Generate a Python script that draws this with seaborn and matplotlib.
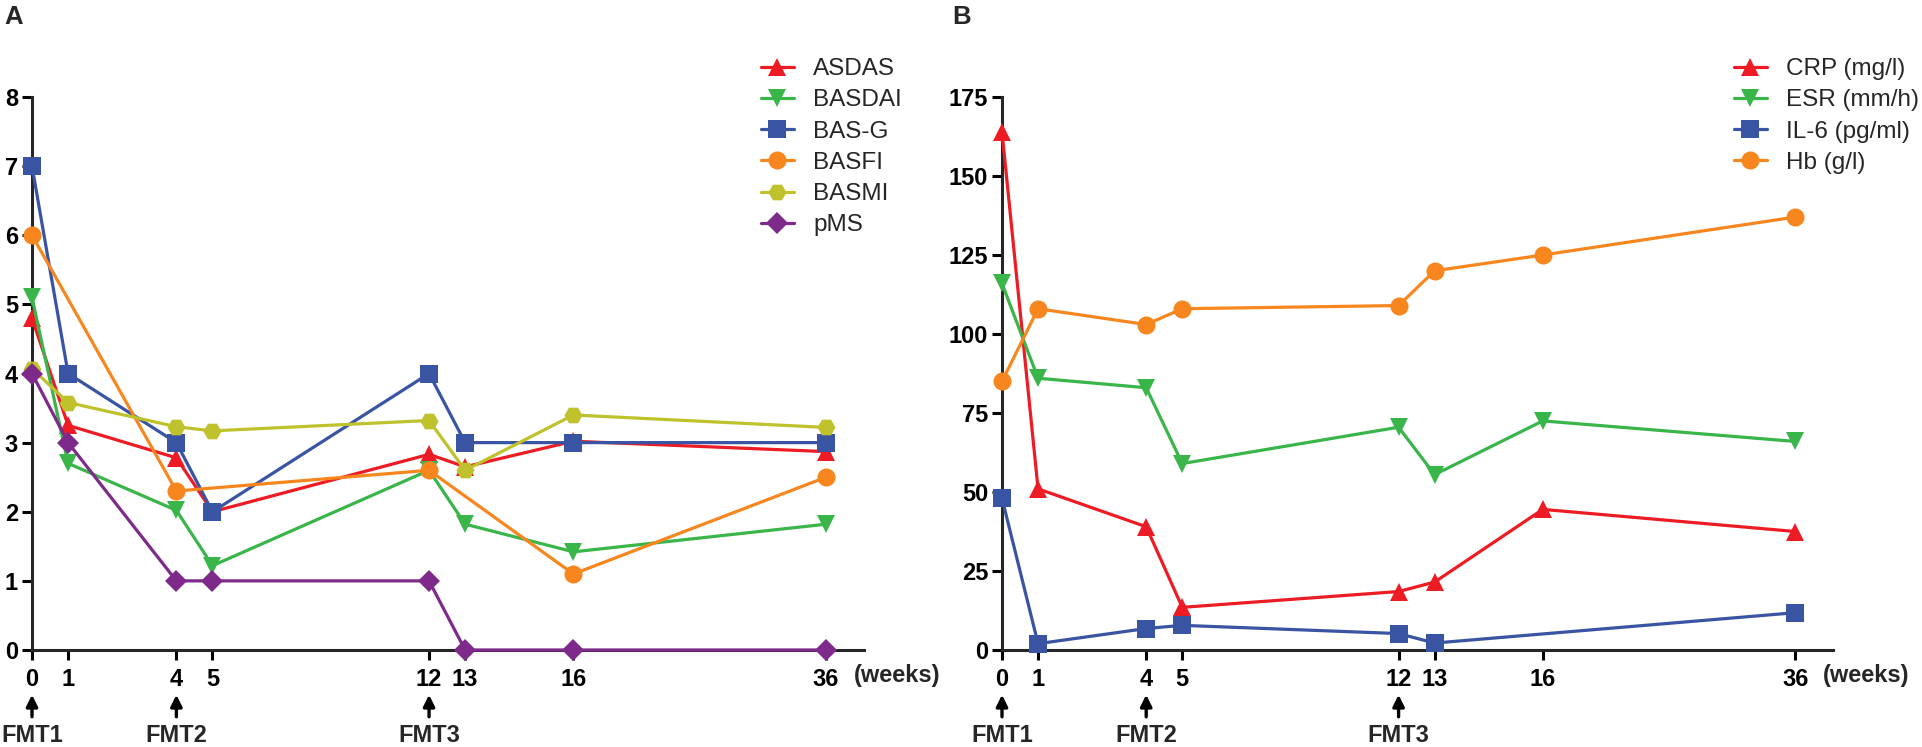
import matplotlib
matplotlib.use('Agg')
import matplotlib.pyplot as plt
import numpy as np
import pandas as pd
import seaborn as sns

# weeks after first FMT
weeks = [0, 1, 4, 5, 12, 13, 16, 36]
fmt_weeks = [0, 4, 12]
fmt_labels = ['FMT1', 'FMT2', 'FMT3']

# panel A - clinical scores
asdas = [4.8, 3.25, 2.78, 2.0, 2.83, 2.65, 3.02, 2.87]
basdai = [5.1, 2.7, 2.02, 1.22, 2.6, 1.82, 1.42, 1.82]
bas_g = [7, 4, 3, 2, 4, 3, 3, 3]
basfi = [6, np.nan, 2.3, np.nan, 2.6, np.nan, 1.1, 2.5]
basmi = [4.07, 3.58, 3.23, 3.17, 3.32, 2.6, 3.4, 3.22]
pms = [4, 3, 1, 1, 1, 0, 0, 0]
scores_a = ['ASDAS', 'BASDAI', 'BAS-G', 'BASFI', 'BASMI', 'pMS']

# panel B - lab values
crp = [164, 51, 39, 13.5, 18.5, 21.5, 44.5, 37.5]
esr = [116, 86, 83, 59, 70.5, 55.5, 72.5, 66]
il6 = [48, 2, 6.8, 7.8, 5.2, 2.2, np.nan, 11.8]
hb = [85, 108, 103, 108, 109, 120, 125, 137]
labs_b = ['CRP (mg/l)', 'ESR (mm/h)', 'IL-6 (pg/ml)', 'Hb (g/l)']

RED, GREEN, BLUE = '#ED1C24', '#39B54A', '#3A54A4'
ORANGE, OLIVE, PURPLE = '#F7861F', '#BFC22C', '#7D2A8A'


def longForm(series, names):
    rows = []
    for name, vals in zip(names, series):
        for w, v in zip(weeks, vals):
            rows.append({'week': w, 'value': v, 'measure': name})
    return pd.DataFrame(rows).dropna()


# Prism-like broken time axis: 5->12 squeezed, 16->36 squeezed
knots_w = [-10, 0, 5, 12, 16, 36, 60]
knots_p = [-10, 0, 5, 11, 15, 22, 30.4]
def fwd(w):
    return np.interp(w, knots_w, knots_p)
def inv(p):
    return np.interp(p, knots_p, knots_w)


def fixMarkers(lines):
    # diamonds come out bigger than the other shapes
    for ln in lines:
        ms = 11.2 if ln.get_marker() == 'D' else 13
        ln.set_markersize(ms)
        ln.set_markeredgewidth(0)


sns.set_style('ticks')
plt.rcParams['font.family'] = ['Liberation Sans', 'DejaVu Sans']
plt.rcParams['axes.linewidth'] = 2.2

fig = plt.figure(figsize=(19.22, 7.47), dpi=100)
axA = fig.add_axes([32 / 1922, 1 - 650 / 747, 832 / 1922, 553 / 747])
axB = fig.add_axes([1002 / 1922, 1 - 650 / 747, 831 / 1922, 553 / 747])

dfA = longForm([asdas, basdai, bas_g, basfi, basmi, pms], scores_a)
dfB = longForm([crp, esr, il6, hb], labs_b)

palA = dict(zip(scores_a, [RED, GREEN, BLUE, ORANGE, OLIVE, PURPLE]))
mrkA = dict(zip(scores_a, ['^', 'v', 's', 'o', 'H', 'D']))
palB = dict(zip(labs_b, [RED, GREEN, BLUE, ORANGE]))
mrkB = dict(zip(labs_b, ['^', 'v', 's', 'o']))

for ax, df, pal, mrk, order, ymax, yticks, legx, lbl, lblx in [
        (axA, dfA, palA, mrkA, scores_a, 8, range(0, 9), 761, 'A', 4),
        (axB, dfB, palB, mrkB, labs_b, 175, range(0, 176, 25), 1734, 'B', 952)]:
    ax.set_xscale('function', functions=(fwd, inv))
    sns.lineplot(data=df, x='week', y='value', hue='measure', style='measure',
                 hue_order=order, style_order=order, palette=pal, markers=mrk,
                 dashes=False, markersize=13, linewidth=2.3, markeredgewidth=0,
                 clip_on=False, zorder=3, ax=ax)
    fixMarkers(ax.lines)
    ax.set_xlim(0, 39)
    ax.set_ylim(0, ymax)
    ax.set_xticks(weeks)
    ax.set_xticklabels([str(w) for w in weeks])
    ax.set_yticks(list(yticks))
    ax.set_xlabel('')
    ax.set_ylabel('')
    ax.tick_params(axis='both', width=2.2, length=7, labelsize=17, pad=3, colors='black')
    ax.tick_params(axis='x', pad=6)
    plt.setp(ax.get_xticklabels() + ax.get_yticklabels(), fontweight='bold')
    sns.despine(ax=ax)

    ax.text(0.988, -0.047, '(weeks)', transform=ax.transAxes, ha='left', va='center',
            fontsize=17, fontweight='bold')
    for wk, lab in zip(fmt_weeks, fmt_labels):
        ax.annotate(lab, xy=(wk, -0.081), xytext=(wk, -0.155),
                    xycoords=ax.get_xaxis_transform(), ha='center', va='center',
                    fontsize=17, fontweight='bold', annotation_clip=False,
                    arrowprops=dict(arrowstyle='-|>', color='black', lw=2.4,
                                    shrinkA=3, shrinkB=0, mutation_scale=17))

    sns.move_legend(ax, 'upper left', bbox_to_anchor=(legx / 1922, 1 - 58 / 747),
                    bbox_transform=fig.transFigure, frameon=False, title=None,
                    fontsize=17.5, handlelength=1.35, handletextpad=0.8,
                    labelspacing=0.38, borderpad=0, borderaxespad=0)
    fixMarkers(ax.get_legend().legend_handles)
    for h in ax.get_legend().legend_handles:
        h.set_linewidth(2.3)

    fig.text(lblx / 1922, 1 - 5 / 747, lbl, ha='left', va='top', fontsize=18.5,
             fontweight='bold')

fig.savefig('out.png', dpi=100)
